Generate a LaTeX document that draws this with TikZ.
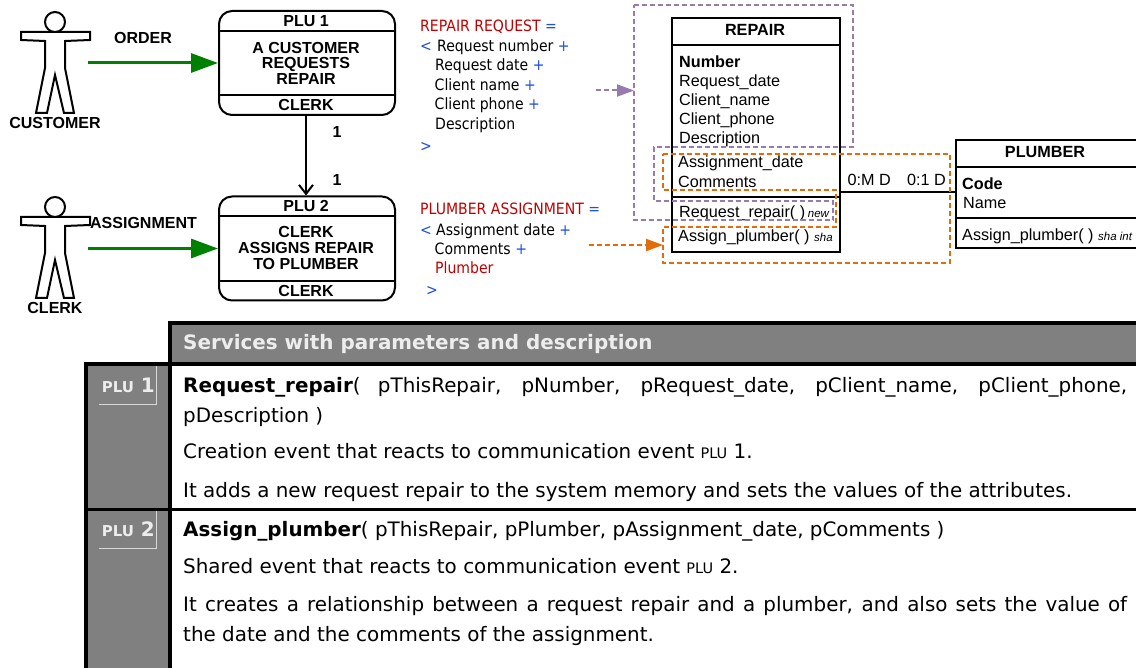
\documentclass[tikz,border=0pt]{standalone}
\usepackage{fontspec}
\setmainfont{Liberation Sans}
\newfontfamily\tahoma[FakeStretch=0.9]{DejaVu Sans}
\newfontfamily\tablefont{DejaVu Sans}
\usetikzlibrary{arrows.meta}
\definecolor{flowgreen}{RGB}{0,128,0}
\definecolor{dashpurple}{RGB}{150,122,178}
\definecolor{dashorange}{RGB}{226,108,10}
\definecolor{specred}{RGB}{192,0,0}
\definecolor{specblue}{RGB}{30,80,220}
\definecolor{tablegray}{RGB}{128,128,128}
\def\actorfig(#1,#2){\draw[line width=2pt,fill=white] (#1+21,#2+32) -- (#1+90,#2+32) -- (#1+90,#2+40) -- (#1+65,#2+41) -- (#1+65,#2+68) -- (#1+74,#2+113) -- (#1+64,#2+113) -- (#1+55,#2+75) -- (#1+47,#2+113) -- (#1+36,#2+113) -- (#1+45,#2+68) -- (#1+45,#2+41) -- (#1+21,#2+40) -- cycle;
	\draw[line width=2pt,fill=white] (#1+55,#2+22) circle (10);}
\tikzset{
	plubox/.style={draw,line width=2pt,rounded corners=13pt,minimum width=176pt,minimum height=104pt,inner sep=0pt},
	plutext/.style={font=\fontsize{16}{16}\selectfont\bfseries,anchor=base,inner sep=0pt},
	flowarrow/.style={draw=flowgreen,line width=3pt,-{Triangle[length=27pt,width=19pt]}},
	umlbox/.style={draw,line width=1.6pt,anchor=north west,inner sep=0pt},
	umltext/.style={font=\fontsize{16.2}{16}\selectfont,anchor=base west,inner sep=0pt},
	spectext/.style={font=\tahoma\fontsize{15.6}{16}\selectfont,anchor=base west,inner sep=0pt},
	bodytext/.style={font=\tablefont\fontsize{19.9}{20}\selectfont,anchor=base west,inner sep=0pt},
	rowtext/.style={font=\tablefont\fontsize{19.9}{20}\selectfont\bfseries,text=white!93!black,inner sep=0pt},
	puredash/.style={dash pattern=on 5pt off 3pt,line width=2pt,draw=dashpurple},
	oradash/.style={dash pattern=on 5pt off 3pt,line width=2pt,draw=dashorange},
}
\begin{document}
\begin{tikzpicture}[x=1pt,y=-1pt]
	\useasboundingbox (0,0) rectangle (1136,668);
	%%%%% ACTORS %%%%%
	\actorfig(0,0)
	\actorfig(0,185)
	\coordinate (customerout) at (88,63);
	\coordinate (clerkout) at (88,248.5);
	\node[plutext] (customerlabel) at (55,128.5) {CUSTOMER};
	\node[plutext] (clerklabel) at (55,314) {CLERK};
	\node[plutext] (orderlabel) at (143,43.5) {ORDER};
	\node[plutext] (assignlabel) at (143.5,228.5) {ASSIGNMENT};

	%%%%% PLU BOXES %%%%%
	\node[plubox] (plua) at (307,63) {};
	\draw[line width=2pt] (219,31) -- (395,31);
	\draw[line width=2pt] (219,95) -- (395,95);
	\node[plutext] (pluatitle) at (306,27) {PLU 1};
	\node[plutext] (pluaone) at (306,53.2) {A CUSTOMER};
	\node[plutext] (pluatwo) at (306,69) {REQUESTS};
	\node[plutext] (pluathree) at (306,85) {REPAIR};
	\node[plutext] (pluaactor) at (306,110.5) {CLERK};

	\node[plubox] (plub) at (307,248.5) {};
	\draw[line width=2pt] (219,216) -- (395,216);
	\draw[line width=2pt] (219,281) -- (395,281);
	\node[plutext] (plubtitle) at (306,212) {PLU 2};
	\node[plutext] (plubone) at (306,237.2) {CLERK};
	\node[plutext] (plubtwo) at (306,254) {ASSIGNS REPAIR};
	\node[plutext] (plubthree) at (306,270) {TO PLUMBER};
	\node[plutext] (plubactor) at (306,296.2) {CLERK};

	\draw[flowarrow] (customerout) -- (plua.west |- customerout);
	\draw[flowarrow] (clerkout) -- (plub.west |- clerkout);
	\draw[line width=2pt,-{Straight Barb[length=9pt,width=14pt]}] (plua.south -| 306,0) -- (plub.north -| 306,0);
	\node[plutext] (cardtop) at (337,137.5) {1};
	\node[plutext] (cardbottom) at (337,185.5) {1};

	%%%%% MESSAGE SPECS %%%%%
	\node[spectext] (reqtitle) at (420,32) {\textcolor{specred}{REPAIR REQUEST} \textcolor{specblue}{=}};
	\node[spectext] (reqopen) at (420,52) {\textcolor{specblue}{<}};
	\node[spectext] (reqnumber) at (437,52) {Request number \textcolor{specblue}{+}};
	\node[spectext] (reqdate) at (435,71) {Request date \textcolor{specblue}{+}};
	\node[spectext] (reqname) at (434.5,90.7) {Client name \textcolor{specblue}{+}};
	\node[spectext] (reqphone) at (434.5,110) {Client phone \textcolor{specblue}{+}};
	\node[spectext] (reqdesc) at (435,129.5) {Description};
	\node[spectext] (reqclose) at (420,151.5) {\textcolor{specblue}{>}};

	\node[spectext] (asgtitle) at (420,215) {\textcolor{specred}{PLUMBER ASSIGNMENT} \textcolor{specblue}{=}};
	\node[spectext] (asgopen) at (420,235.5) {\textcolor{specblue}{<}};
	\node[spectext] (asgdate) at (436,235.5) {Assignment date \textcolor{specblue}{+}};
	\node[spectext] (asgcomments) at (434.5,254.5) {Comments \textcolor{specblue}{+}};
	\node[spectext] (asgplumber) at (435,273.5) {\textcolor{specred}{Plumber}};
	\node[spectext] (asgclose) at (426,295.5) {\textcolor{specblue}{>}};

	%%%%% CLASSES %%%%%
	\node[umlbox,minimum width=168pt,minimum height=234pt] (repair) at (671,17) {};
	\draw[line width=1.6pt] (671,45) -- (839,45);
	\draw[line width=1.6pt] (671,197) -- (839,197);
	\node[umltext,anchor=base,font=\fontsize{16.2}{16}\selectfont\bfseries] (repairtitle) at (755,35.5) {REPAIR};
	\node[umltext,font=\fontsize{16.2}{16}\selectfont\bfseries] (repnumber) at (679,67.5) {Number};
	\node[umltext] (repdate) at (679,86.5) {Request\_date};
	\node[umltext] (repname) at (679,106) {Client\_name};
	\node[umltext] (repphone) at (679,125) {Client\_phone};
	\node[umltext] (repdesc) at (679,144) {Description};
	\node[umltext] (repassign) at (678,168) {Assignment\_date};
	\node[umltext] (repcomments) at (678,187.5) {Comments};
	\node[umltext] (repservice) at (679,218) {Request\_repair( )\,{\fontsize{11.5}{11}\selectfont\itshape new}};
	\node[umltext] (repshared) at (678,242) {Assign\_plumber( ) {\fontsize{11.5}{11}\selectfont\itshape sha}};

	\node[umlbox,minimum width=181pt,minimum height=108pt] (plumber) at (955,139) {};
	\draw[line width=1.6pt] (955,167) -- (1136,167);
	\draw[line width=1.6pt] (955,218) -- (1136,218);
	\node[umltext,anchor=base,font=\fontsize{16.2}{16}\selectfont\bfseries] (plumbertitle) at (1045,158) {PLUMBER};
	\node[umltext,font=\fontsize{16.2}{16}\selectfont\bfseries] (plucode) at (962,189.5) {Code};
	\node[umltext] (pluname) at (963,208.5) {Name};
	\node[umltext] (pluservice) at (962,241) {Assign\_plumber( ) {\fontsize{11.5}{11}\selectfont\itshape sha int}};

	\coordinate (linkleft) at (839,192);
	\draw[line width=1.6pt] (linkleft) -- (plumber.west |- linkleft);
	\node[umltext] (cardm) at (847.5,186) {0:M D};
	\node[umltext] (cardo) at (907,186) {0:1 D};

	%%%%% DASHED REGIONS %%%%%
	\draw[puredash] (634,5) -- (853,5) -- (853,147) -- (654,147) -- (654,201) -- (833,201) -- (833,220.5) -- (634,220.5) -- cycle;
	\draw[oradash] (663,154) -- (950,154) -- (950,263) -- (663,263) -- (663,227) -- (836,227) -- (836,190) -- (663,190) -- cycle;
	\coordinate (reqarrowstart) at (596,90.5);
	\coordinate (reqarrowend) at (634,90.5);
	\coordinate (asgarrowstart) at (589,245);
	\coordinate (asgarrowend) at (663,245);
	\draw[puredash,-{Triangle[length=17pt,width=12pt,fill=dashpurple]}] (reqarrowstart) -- (reqarrowend);
	\draw[oradash,-{Triangle[length=17pt,width=12pt,fill=dashorange]}] (asgarrowstart) -- (asgarrowend);

	%%%%% TABLE %%%%%
	\fill[tablegray] (170,323) rectangle (1136,364);
	\fill[tablegray] (86,364) rectangle (170,668);
	\draw[line width=4pt] (168,323) -- (1136,323);
	\draw[line width=4pt] (170,321) -- (170,668);
	\draw[line width=4pt] (84,364) -- (1136,364);
	\draw[line width=4pt] (86,362) -- (86,668);
	\draw[line width=3pt] (84,509) -- (1136,509);
	\draw[white!85!black,line width=0.6pt] (99,404) -- (156,404) -- (156,366);
	\draw[white!85!black,line width=0.6pt] (99,548) -- (156,548) -- (156,511);
	\node[rowtext,anchor=base west] (tabletitle) at (183,350) {Services with parameters and description};
	\node[rowtext,anchor=base east] (rowone) at (155,392) {{\fontsize{15}{15}\selectfont PLU} 1};
	\node[rowtext,anchor=base east] (rowtwo) at (155,536) {{\fontsize{15}{15}\selectfont PLU} 2};
	\node[bodytext] (serviceone) at (183,392) {\makebox[944pt][s]{\textbf{Request\_repair}( pThisRepair, pNumber, pRequest\_date, pClient\_name, pClient\_phone,}};
	\node[bodytext] (serviceonemore) at (183,422) {pDescription )};
	\node[bodytext] (creationtext) at (183,458) {Creation event that reacts to communication event {\fontsize{14.5}{14}\selectfont PLU} 1.};
	\node[bodytext] (addstext) at (183,497) {It adds a new request repair to the system memory and sets the values of the attributes.};
	\node[bodytext] (servicetwo) at (183,536) {\textbf{Assign\_plumber}( pThisRepair, pPlumber, pAssignment\_date, pComments )};
	\node[bodytext] (sharedtext) at (183,573) {Shared event that reacts to communication event {\fontsize{14.5}{14}\selectfont PLU} 2.};
	\node[bodytext] (createstext) at (183,611) {\makebox[944pt][s]{It creates a relationship between a request repair and a plumber, and also sets the value of}};
	\node[bodytext] (datetext) at (183,641) {the date and the comments of the assignment.};
\end{tikzpicture}
\end{document}
